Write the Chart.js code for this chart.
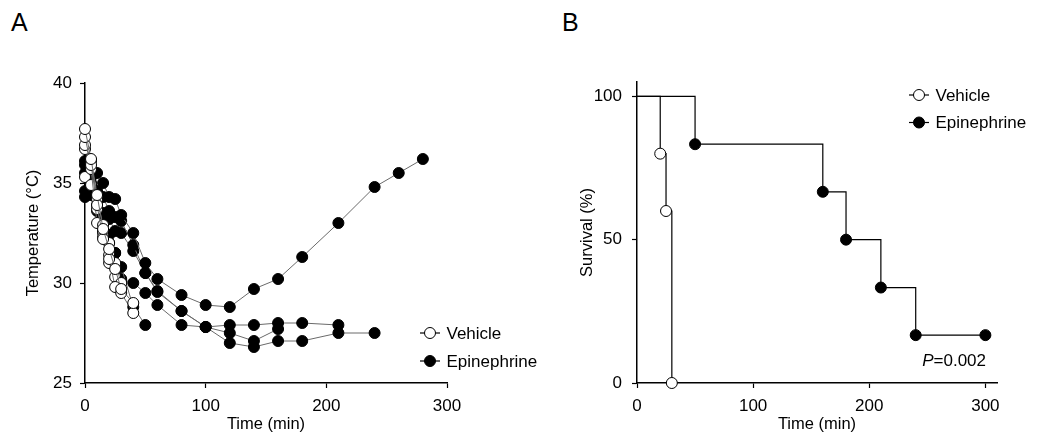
<!DOCTYPE html>
<html>
<head>
<meta charset="utf-8">
<script src="https://cdn.jsdelivr.net/npm/chart.js@4/dist/chart.umd.min.js"></script>
<style>
  body { margin:0; background:#fff; width:1037px; height:440px; position:relative; overflow:hidden; font-family:"Liberation Sans", Arial, sans-serif; }
  #wa { position:absolute; left:0; top:0; width:560px; height:440px; }
  #wb { position:absolute; left:560px; top:0; width:477px; height:440px; }
  .lab { position:absolute; top:9.5px; font-size:25px; line-height:25px; color:#000; }
</style>
</head>
<body>
<div class="lab" style="left:11px">A</div>
<div class="lab" style="left:562px">B</div>
<div id="wa"><canvas id="chartA"></canvas></div>
<div id="wb"><canvas id="chartB"></canvas></div>
<script>
// panel A: body temperature of each mouse
const vehTimes = [0, 5, 10, 15, 20, 25, 30, 40];
const vehicle1 = [37.7, 36.2, 34.4, 32.7, 31.7, 30.7, 29.7, 29.0];
const vehicle2 = [37.3, 35.9, 33.9, 32.2, 31.2, 29.8, 29.5, 28.5];
const vehicle3 = [36.9, 36.1, 34.2, 32.9, 32.0, 31.0, 30.0];
const vehicle4 = [36.7, 35.7, 33.0, 32.3, 31.4, 30.3];
const vehicle5 = [35.3, 34.9, 33.7, 32.5, 31.0];

const epiTimes = [0, 5, 10, 15, 20, 25, 30, 40, 50, 60, 80, 100, 120, 140, 160, 180, 210, 240, 260, 280];
const epi1 = [35.9, 35.3, 35.5, 35.0, 34.3, 34.2, 33.4, 32.5, 31.0, 30.2, 29.4, 28.9, 28.8, 29.7, 30.2, 31.3, 33.0, 34.8, 35.5, 36.2];
const epi2 = [34.6, 34.4, 33.6, 32.6, 32.0, 31.5, 30.8, 28.8, 27.9];
const epi3 = [36.1, 35.6, 34.6, 34.3, 33.6, 33.3, 33.1, 31.9, 30.5, 29.6, 28.6, 27.8, 27.9, 27.9, 28.0, 28.0, 27.9];
const epi4 = [35.5, 35.0, 34.2, 33.5, 33.2, 32.6, 32.5, 31.6, 30.5, 29.55, 28.6, 27.8, 27.5, 27.1, 27.7];
const epi5 = [34.3, 34.7, 33.9, 33.3, 32.4, 31.5, 30.2, 30.0, 29.5, 28.9, 27.9, 27.8, 27.0, 26.8, 27.1, 27.1, 27.5, 27.5];

// panel B: survival
const vehSurvTimes = [0, 20, 25, 30];
const vehSurv = [100, 80, 60, 0];
const epiSurvTimes = [0, 50, 160, 180, 210, 240, 300];
const epiSurv = [100, 83.3, 66.7, 50, 33.3, 16.7, 16.7];

// tick labels
const tempTicksX = [0, 100, 200, 300];
const tempTicksY = [25, 30, 35, 40];
const survTicksX = [0, 100, 200, 300];
const survTicksY = [0, 50, 100];

const legendNames = ['Vehicle', 'Epinephrine'];
const pValue = '=0.002';

Chart.defaults.font.family = '"Liberation Sans", Arial, sans-serif';
Chart.defaults.color = '#000';

const zip = (xs, ys) => ys.map((y, i) => ({x: xs[i], y: y}));

const tempLine = (times, vals, fill) => ({
  data: zip(times, vals),
  showLine: true,
  borderColor: '#6a6a6a',
  borderWidth: 1,
  pointRadius: 5.5,
  pointHoverRadius: 5.5,
  pointBackgroundColor: fill,
  pointBorderColor: '#000',
  pointBorderWidth: 1,
  clip: false
});

const axisFont = {size: 17};
const titleFont = {size: 16.5};

function axis(min, max, tickVals, title, titlePad, tickPad, fit) {
  return {
    type: 'linear', min: min, max: max,
    afterBuildTicks: s => { s.ticks = tickVals.map(v => ({value: v})); },
    ticks: {font: axisFont, color: '#000', padding: tickPad},
    grid: {drawOnChartArea: false, drawTicks: true, tickLength: 5, tickColor: '#000', tickWidth: 1.2},
    border: {display: true, color: '#000', width: 1.5},
    title: {display: true, text: title, font: titleFont, color: '#000', padding: titlePad},
    afterFit: fit
  };
}

// small legend drawn inside the plot area
function legendPlugin(dx, dy, gap) {
  return {
    id: 'miniLegend',
    afterDraw(chart) {
      const {ctx, chartArea} = chart;
      ctx.save();
      legendNames.forEach((name, i) => {
        const cx = chartArea.right + dx;
        const cy = dy(chartArea) + i * gap;
        ctx.strokeStyle = '#000';
        ctx.lineWidth = 1.2;
        ctx.beginPath();
        ctx.moveTo(cx - 10, cy); ctx.lineTo(cx + 10, cy);
        ctx.stroke();
        ctx.beginPath();
        ctx.arc(cx, cy, 5.5, 0, Math.PI * 2);
        ctx.fillStyle = i === 0 ? '#fff' : '#000';
        ctx.fill();
        ctx.lineWidth = 1;
        ctx.stroke();
        ctx.fillStyle = '#000';
        ctx.font = '17px "Liberation Sans", Arial, sans-serif';
        ctx.textBaseline = 'middle';
        ctx.fillText(name, cx + 16.5, cy + 1);
      });
      ctx.restore();
    }
  };
}

new Chart('chartA', {
  type: 'scatter',
  data: {
    datasets: [
      tempLine(vehTimes, vehicle1, '#fff'),
      tempLine(vehTimes, vehicle2, '#fff'),
      tempLine(vehTimes, vehicle3, '#fff'),
      tempLine(vehTimes, vehicle4, '#fff'),
      tempLine(vehTimes, vehicle5, '#fff'),
      tempLine(epiTimes, epi1, '#000'),
      tempLine(epiTimes, epi2, '#000'),
      tempLine(epiTimes, epi3, '#000'),
      tempLine(epiTimes, epi4, '#000'),
      tempLine(epiTimes, epi5, '#000')
    ]
  },
  options: {
    responsive: true,
    maintainAspectRatio: false,
    animation: false,
    layout: {padding: {left: 0, right: 113, top: 83, bottom: 0}},
    plugins: {legend: {display: false}, tooltip: {enabled: false}},
    scales: {
      x: axis(0, 300, tempTicksX, 'Time (min)', {top: 0, bottom: 6}, 8, s => { s.height = 57; }),
      y: axis(25, 40, tempTicksY, 'Temperature (°C)', {top: 24, bottom: 0}, 8, s => { s.width = 85; })
    }
  },
  plugins: [legendPlugin(-17, a => a.bottom - 50, 28)]
});

const survLine = (times, vals, fill) => ({
  data: zip(times, vals),
  showLine: true,
  stepped: 'before',
  borderColor: '#000',
  borderWidth: 1.2,
  pointRadius: c => c.dataIndex === 0 ? 0 : 5.5,
  pointHoverRadius: 5.5,
  pointBackgroundColor: fill,
  pointBorderColor: '#000',
  pointBorderWidth: 1,
  clip: false
});

new Chart('chartB', {
  type: 'scatter',
  data: {
    datasets: [
      survLine(vehSurvTimes, vehSurv, '#fff'),
      survLine(epiSurvTimes, epiSurv, '#000')
    ]
  },
  options: {
    responsive: true,
    maintainAspectRatio: false,
    animation: false,
    layout: {padding: {left: 0, right: 40, top: 82, bottom: 0}},
    plugins: {legend: {display: false}, tooltip: {enabled: false}},
    scales: {
      x: axis(0, 310, survTicksX, 'Time (min)', {top: 0, bottom: 6}, 8, s => { s.height = 57; }),
      y: axis(0, 105, survTicksY, 'Survival (%)', {top: 18, bottom: 0}, 10, s => { s.width = 77; })
    }
  },
  plugins: [
    legendPlugin(-78, a => a.top + 13, 27.5),
    {
      id: 'pText',
      afterDraw(chart) {
        const {ctx, chartArea} = chart;
        ctx.save();
        ctx.fillStyle = '#000';
        ctx.textBaseline = 'alphabetic';
        ctx.textAlign = 'right';
        ctx.font = '17px "Liberation Sans", Arial, sans-serif';
        const rx = chartArea.right - 11;
        const by = chartArea.bottom - 17;
        ctx.fillText(pValue, rx, by);
        const w = ctx.measureText(pValue).width;
        ctx.font = 'italic 17px "Liberation Sans", Arial, sans-serif';
        ctx.fillText('P', rx - w, by);
        ctx.restore();
      }
    }
  ]
});
</script>
</body>
</html>
